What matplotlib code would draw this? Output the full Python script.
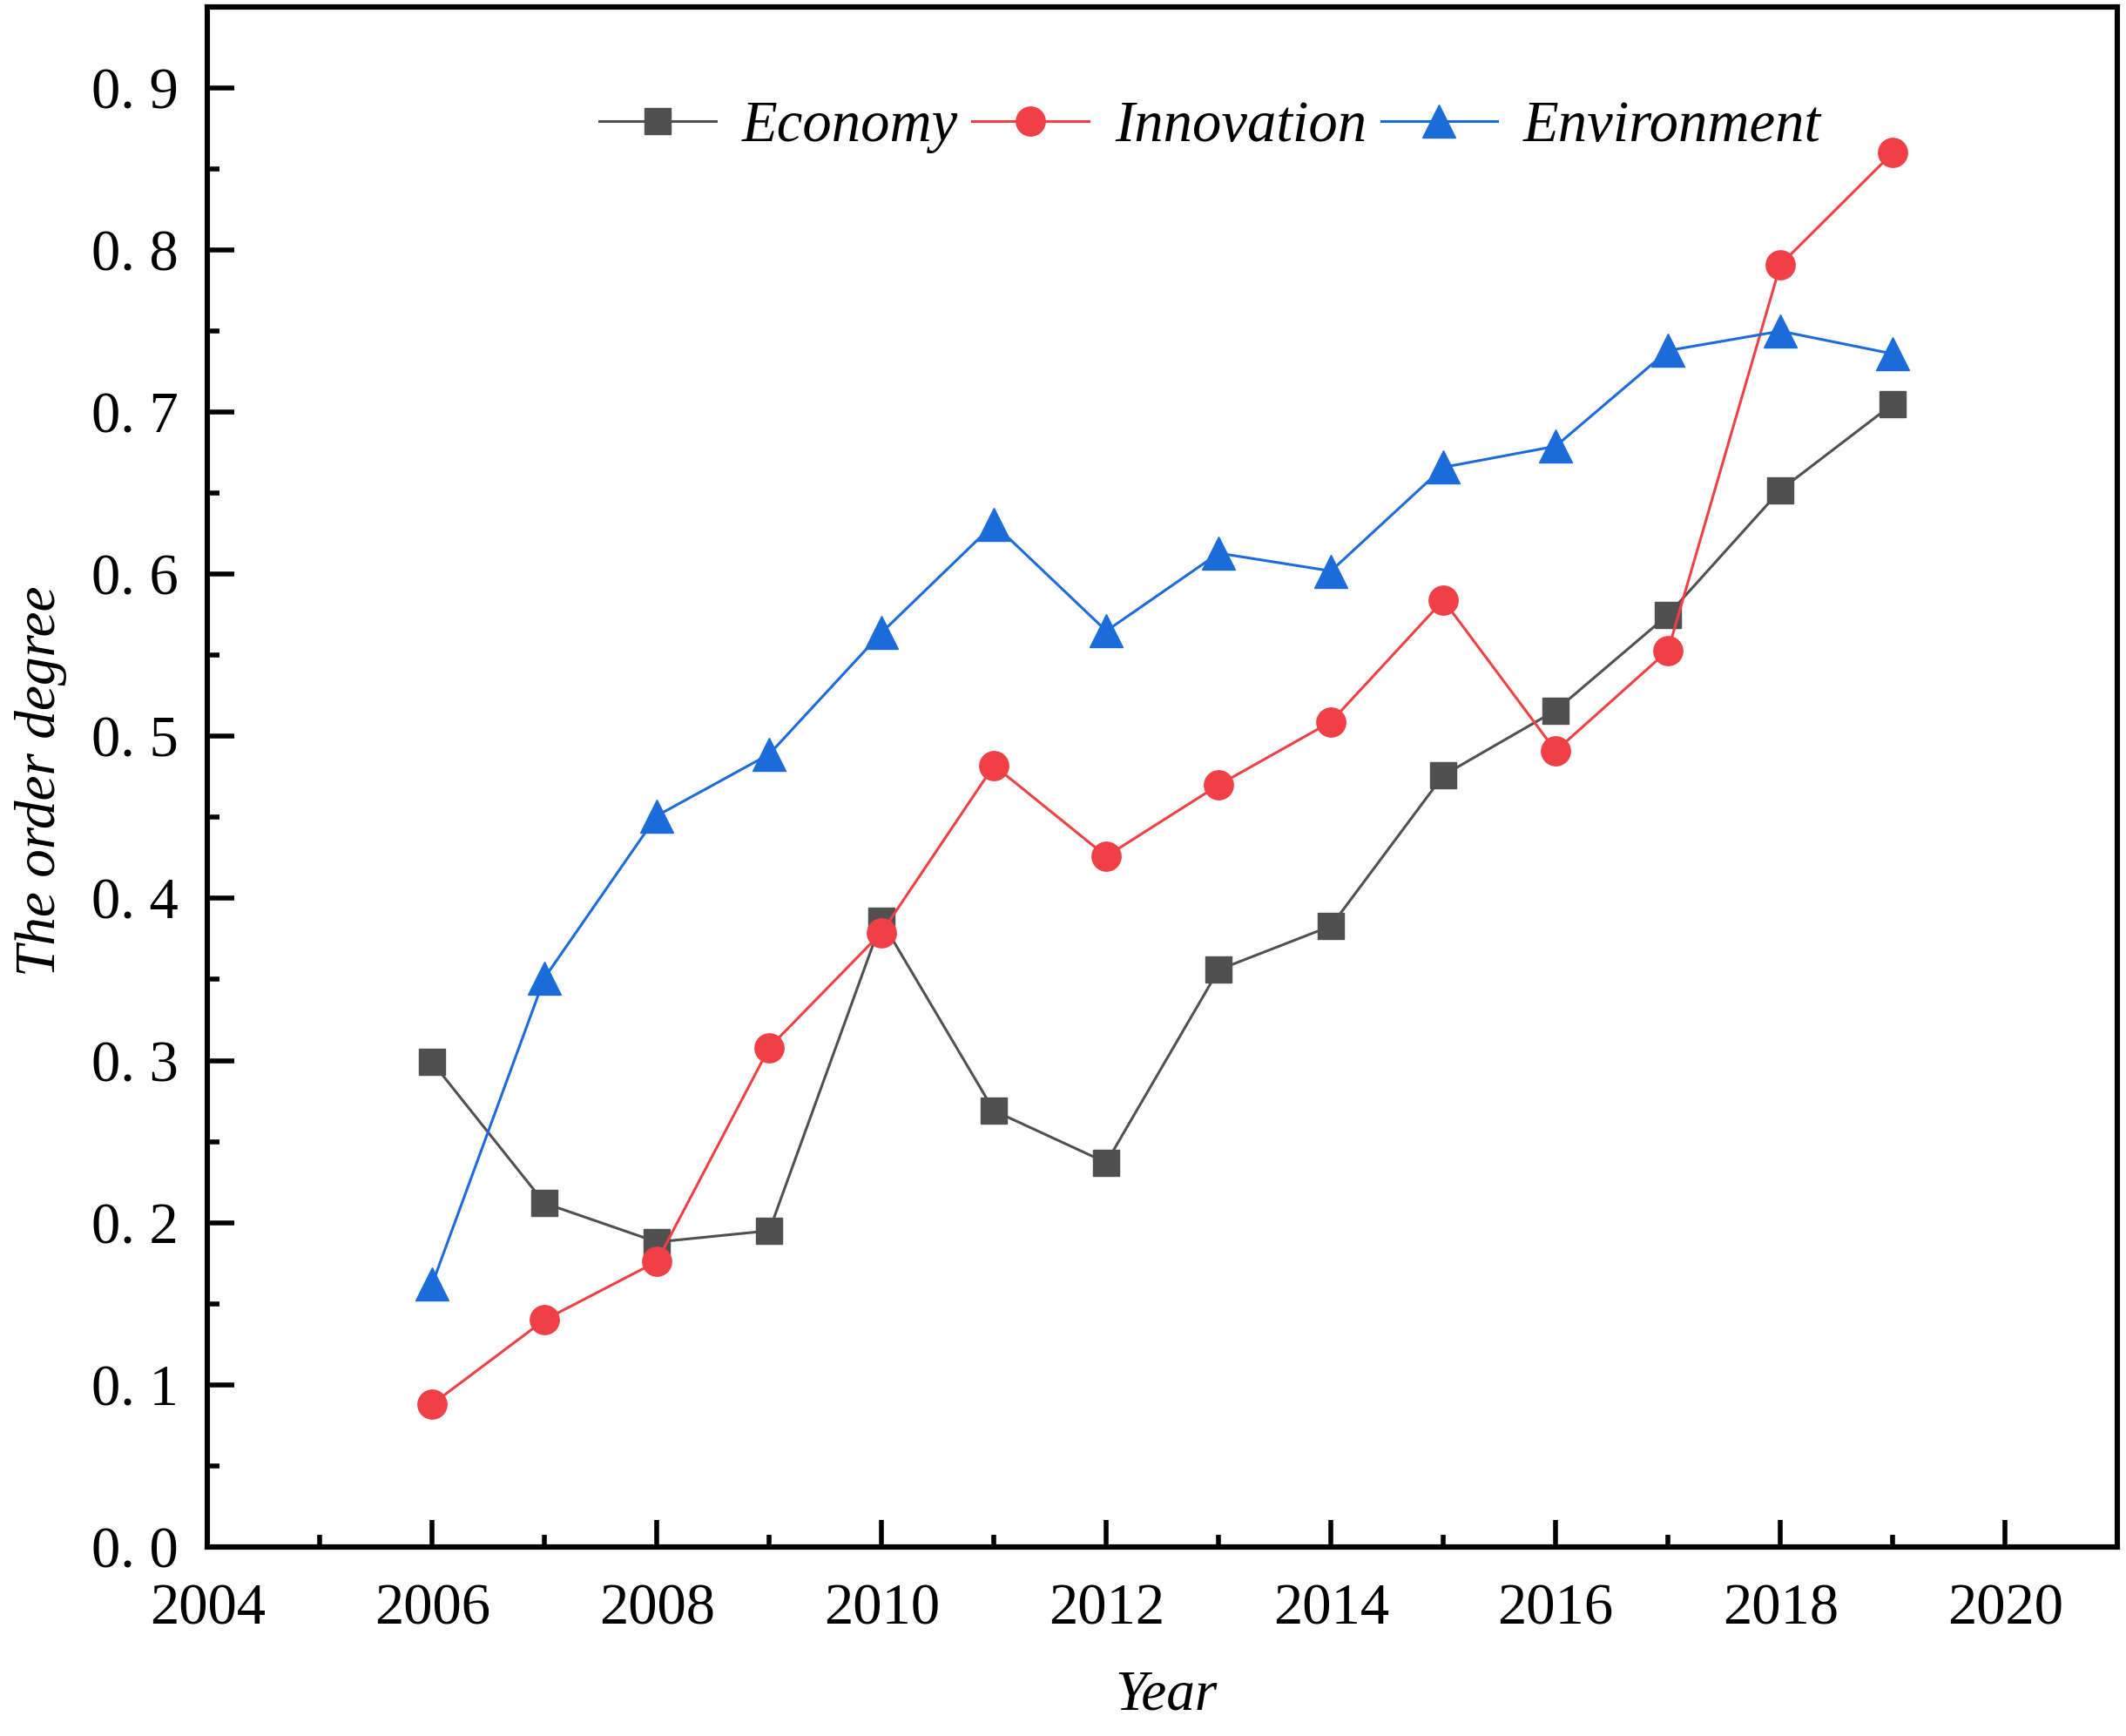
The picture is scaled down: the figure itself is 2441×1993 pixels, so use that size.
import matplotlib
matplotlib.use("Agg")
import matplotlib.pyplot as plt
from matplotlib.ticker import MultipleLocator, FuncFormatter

years = [2006, 2007, 2008, 2009, 2010, 2011, 2012, 2013, 2014, 2015, 2016, 2017, 2018, 2019]
economy = [0.299, 0.212, 0.188, 0.195, 0.386, 0.269, 0.237, 0.356, 0.383, 0.476, 0.516, 0.575, 0.652, 0.705]
innovation = [0.088, 0.140, 0.176, 0.308, 0.379, 0.482, 0.426, 0.470, 0.509, 0.584, 0.491, 0.553, 0.791, 0.860]
environment = [0.162, 0.351, 0.451, 0.489, 0.564, 0.631, 0.565, 0.613, 0.602, 0.666, 0.679, 0.738, 0.750, 0.736]
series_names = ["Economy", "Innovation", "Environment"]
x_ticks = [2004, 2006, 2008, 2010, 2012, 2014, 2016, 2018, 2020]
y_ticks = [0.0, 0.1, 0.2, 0.3, 0.4, 0.5, 0.6, 0.7, 0.8, 0.9]

plt.rcParams['font.family'] = ['Liberation Serif', 'DejaVu Serif']

fig = plt.figure(figsize=(24.41, 19.93), dpi=100)
ax = fig.add_axes([0.0976, 0.109, 0.8984, 0.887])

styles = [
    dict(color='#505050', marker='s', markersize=22),
    dict(color='#F04045', marker='o', markersize=24),
    dict(color='#1C6BDB', marker='^', markersize=27),
]
for vals, name, st in zip([economy, innovation, environment], series_names, styles):
    ax.plot(years, vals, linewidth=2.2, label=name, **st)

ax.set_xlim(2004, 2021)
ax.set_ylim(0, 0.95)
ax.set_xticks(x_ticks)
ax.set_yticks(y_ticks)
ax.xaxis.set_minor_locator(MultipleLocator(1))
ax.yaxis.set_minor_locator(MultipleLocator(0.05))
ax.yaxis.set_major_formatter(FuncFormatter(lambda v, p: ("%.1f" % v).replace('.', '. ')))

for s in ax.spines.values():
    s.set_linewidth(4.4)
ax.tick_params(axis='both', which='major', direction='in', length=22, width=4.0, labelsize=48)
ax.tick_params(axis='both', which='minor', direction='in', length=10, width=4.0)
ax.tick_params(axis='y', which='major', pad=24)
ax.tick_params(axis='x', which='major', pad=30)
ax.tick_params(top=False, right=False, which='both')

ax.set_xlabel("Year", fontsize=47, style='italic')
ax.set_ylabel("The order degree", fontsize=47, style='italic')
ax.xaxis.set_label_coords(0.502, -0.097)
ax.xaxis.label.set_va('center')
ax.yaxis.set_label_coords(-0.0873, 0.497)
ax.yaxis.label.set_va('center')
ax.yaxis.label.set_ha('center')

leg = ax.legend(loc='center', bbox_to_anchor=(0.525, 0.922), ncol=3, frameon=False,
                prop=dict(family='Liberation Serif', style='italic', size=48),
                handlelength=2.0, handletextpad=0.45, columnspacing=0.25, borderpad=0)

fig.savefig("out.png", dpi=100)
